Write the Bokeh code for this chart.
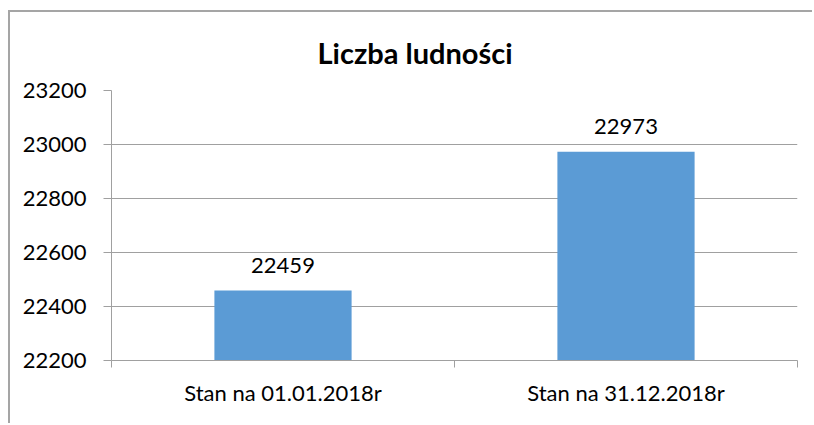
from bokeh.plotting import figure
from bokeh.models import (Range1d, FactorRange, LinearAxis, CategoricalAxis, FixedTicker,
                          LabelSet, ColumnDataSource)
from bokeh.core.properties import value
from bokeh.embed import file_html
from bokeh.resources import INLINE

title_text = "Liczba ludności"
categories = ["Stan na 01.01.2018r", "Stan na 31.12.2018r"]
values = [22459, 22973]
y_ticks = [22200, 22400, 22600, 22800, 23000, 23200]

FONT = "Lato"
GRAY = "#A0A0A0"
BAR = "#5B9BD5"

src = ColumnDataSource(data=dict(cat=categories, val=values, txt=[str(v) for v in values]))

p = figure(width=804, height=413, output_backend="svg", toolbar_location=None,
           x_range=FactorRange(factors=categories, range_padding=0),
           y_range=Range1d(y_ticks[0], y_ticks[-1]),
           x_axis_location=None, y_axis_location=None,
           min_border_left=101, min_border_right=17, min_border_top=77, min_border_bottom=65)
p.styles = {"margin-left": "8px", "margin-top": "10px",
            "border-left": "2px solid #A5A5A5", "border-top": "2px solid #A5A5A5"}
p.outline_line_color = None
p.background_fill_color = "white"
p.border_fill_color = "white"

p.title.text = title_text
p.title.align = "left"
p.title.offset = 206
p.title.standoff = 41
p.title.text_font = FONT
p.title.text_font_size = "29px"
p.title.text_font_style = "bold"
p.title.text_color = "black"

p.vbar(x="cat", top="val", bottom=y_ticks[0], width=0.4, source=src,
       fill_color=BAR, line_color=None)

# y axis
yax = LinearAxis(ticker=FixedTicker(ticks=y_ticks))
yax.axis_line_color = GRAY
yax.major_tick_line_color = GRAY
yax.major_tick_out = 8
yax.major_tick_in = 0
yax.minor_tick_line_color = None
yax.major_label_text_font = FONT
yax.major_label_text_font_size = "22px"
yax.major_label_text_color = "black"
yax.major_label_standoff = 17
p.add_layout(yax, "left")

# x axis tick marks at category boundaries
xt = LinearAxis(ticker=FixedTicker(ticks=[0, 1, 2]))
xt.axis_line_color = GRAY
xt.major_tick_line_color = GRAY
xt.major_tick_out = 7
xt.major_tick_in = 0
xt.minor_tick_line_color = None
xt.major_label_text_font_size = "1px"
xt.major_label_text_alpha = 0
xt.major_label_standoff = 0
p.add_layout(xt, "below")

# category labels
xc = CategoricalAxis()
xc.axis_line_color = None
xc.major_tick_line_color = None
xc.major_tick_out = 0
xc.major_tick_in = 0
xc.major_label_text_font = FONT
xc.major_label_text_font_size = "22px"
xc.major_label_text_color = "black"
xc.major_label_standoff = 11
p.add_layout(xc, "below")

p.xgrid.visible = False
p.ygrid.ticker = FixedTicker(ticks=y_ticks)
p.ygrid.grid_line_color = GRAY
p.ygrid.grid_line_width = 1

labels = LabelSet(x="cat", y="val", text="txt", source=src, text_align="center",
                  text_baseline="alphabetic", y_offset=18, text_font=value(FONT),
                  text_font_size=value("22px"), text_color="black")
p.add_layout(labels)

open("out.html", "w").write(file_html(p, INLINE))
